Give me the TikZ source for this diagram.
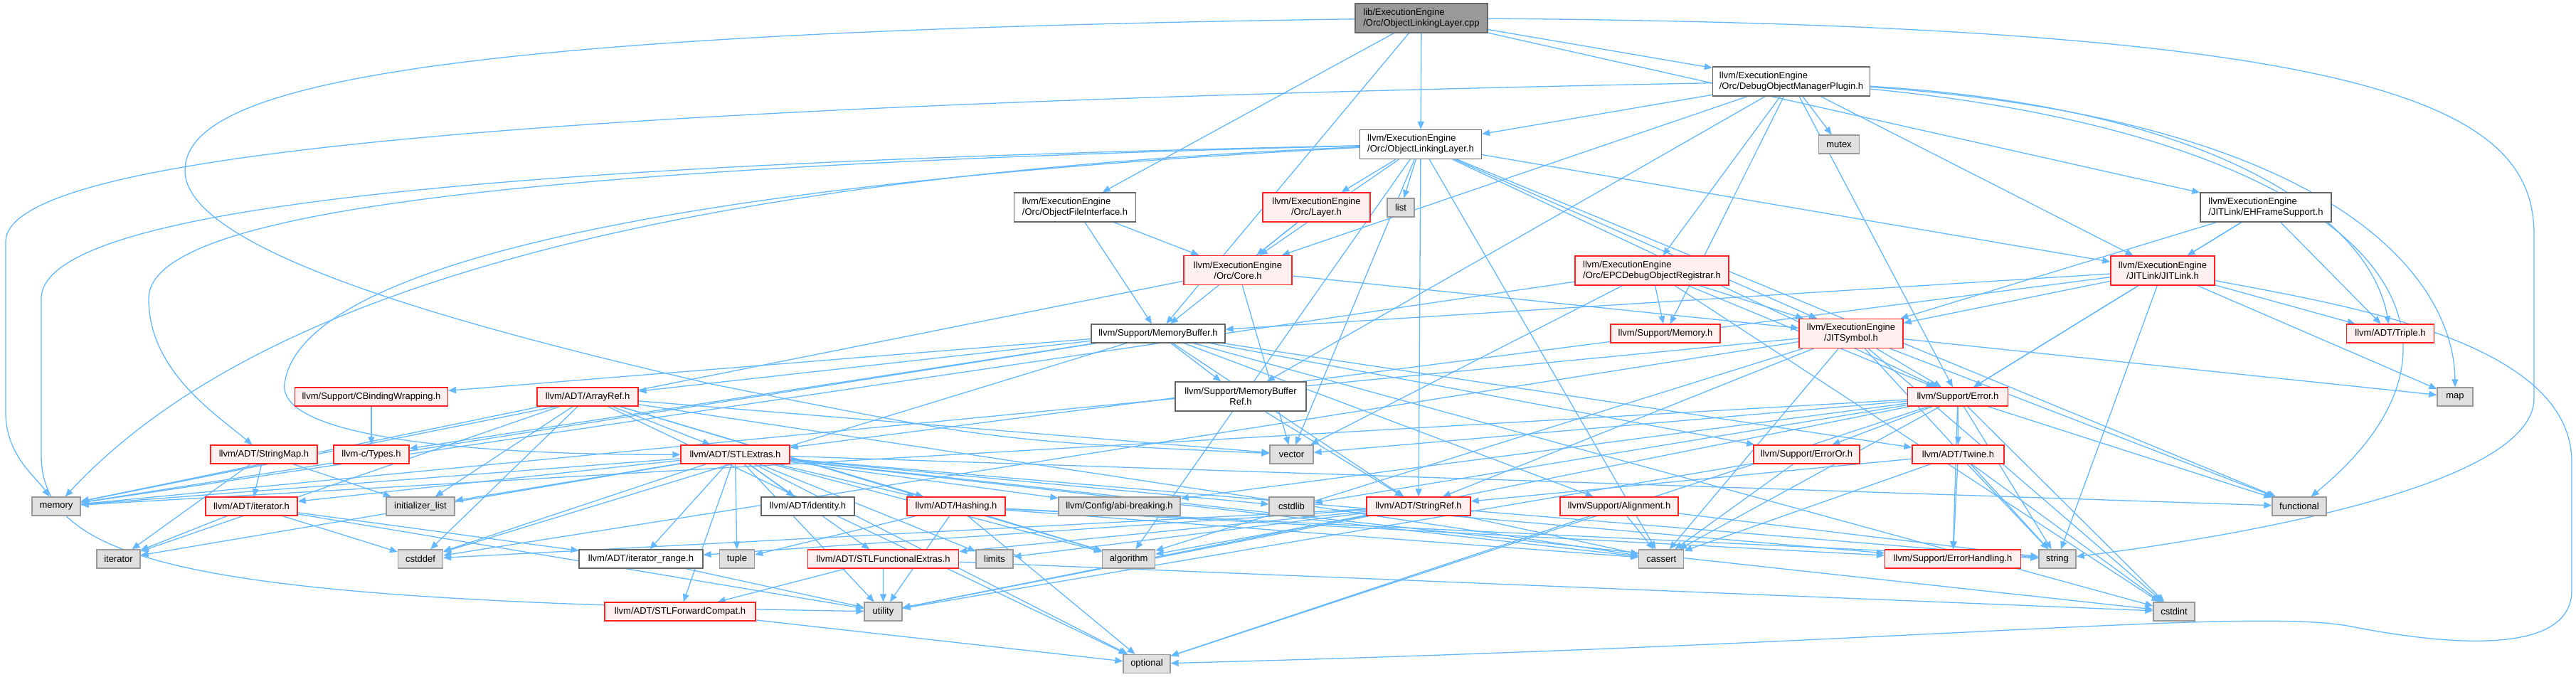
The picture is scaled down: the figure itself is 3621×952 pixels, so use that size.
\documentclass[tikz,border=0pt]{standalone}
\usepackage{fontspec}
\setmainfont{Liberation Sans}
\usetikzlibrary{arrows.meta}
\pgfdeclarelayer{bg}
\pgfsetlayers{bg,main}
\definecolor{edgec}{HTML}{63B8FF}
\definecolor{redfill}{HTML}{FFF0F0}
\definecolor{redline}{HTML}{FF2020}
\definecolor{sysfill}{HTML}{E0E0E0}
\definecolor{sysline}{HTML}{999999}
\definecolor{plainline}{HTML}{666666}
\definecolor{rootfill}{HTML}{999999}
\newcommand\nodefont{\fontsize{13}{15}\selectfont}
\newcommand\twol[2]{\setbox0=\hbox{#1}\setbox2=\hbox{#2}%
  \dimen0=\wd0 \ifdim\wd2>\dimen0 \dimen0=\wd2\fi
  \vbox{\baselineskip=15pt\hbox to\dimen0{\unhbox0\hfil}\hbox to\dimen0{\hfil\unhbox2\hfil}}}
\tikzset{
  nbase/.style={rectangle, line width=1.3pt, inner sep=0pt, font=\nodefont, text=black, minimum height=26pt},
  tall/.style={minimum height=41pt},
  rootnode/.style={nbase, fill=rootfill, draw=plainline},
  plainnode/.style={nbase, fill=white, draw=plainline},
  rednode/.style={nbase, fill=redfill, draw=redline},
  sysnode/.style={nbase, fill=sysfill, draw=sysline},
  edge/.style={draw=edgec, line width=1.3pt, -{Triangle[length=11pt,width=9pt]}}
}
\begin{document}
\begin{tikzpicture}[x=1pt,y=-1pt]
\useasboundingbox (0,0) rectangle (3621,952);
% row 0
\node[rootnode,tall,minimum width=186pt] (main) at (1998,25.5) {\twol{lib/ExecutionEngine}{/Orc/ObjectLinkingLayer.cpp}};
% row 1
\node[plainnode,tall,minimum width=221pt] (dom) at (2518,114.5) {\twol{llvm/ExecutionEngine}{/Orc/DebugObjectManagerPlugin.h}};
% row 2
\node[plainnode,tall,minimum width=171pt] (oll) at (1997,203) {\twol{llvm/ExecutionEngine}{/Orc/ObjectLinkingLayer.h}};
\node[sysnode,minimum width=57pt] (mutex) at (2585,203) {mutex};
% row 3
\node[plainnode,tall,minimum width=171pt] (ofi) at (1511,291.5) {\twol{llvm/ExecutionEngine}{/Orc/ObjectFileInterface.h}};
\node[rednode,tall,minimum width=151pt] (layer) at (1850.5,291.5) {\twol{llvm/ExecutionEngine}{/Orc/Layer.h}};
\node[sysnode,minimum width=38pt] (list) at (1969,292) {list};
\node[plainnode,tall,minimum width=184pt] (ehf) at (3185,291.5) {\twol{llvm/ExecutionEngine}{/JITLink/EHFrameSupport.h}};
% row 4
\node[rednode,tall,minimum width=152pt] (core) at (1740,380) {\twol{llvm/ExecutionEngine}{/Orc/Core.h}};
\node[rednode,tall,minimum width=216pt] (epc) at (2322,380.5) {\twol{llvm/ExecutionEngine}{/Orc/EPCDebugObjectRegistrar.h}};
\node[rednode,tall,minimum width=146pt] (jitlink) at (3040,380.5) {\twol{llvm/ExecutionEngine}{/JITLink/JITLink.h}};
% row 5
\node[plainnode,minimum width=188pt] (mbuf) at (1628,469) {llvm/Support/MemoryBuffer.h};
\node[rednode,minimum width=154pt] (memh) at (2341,469) {llvm/Support/Memory.h};
\node[rednode,tall,minimum width=146pt] (jitsym) at (2602,469) {\twol{llvm/ExecutionEngine}{/JITSymbol.h}};
\node[rednode,minimum width=123pt] (triple) at (3360,469) {llvm/ADT/Triple.h};
% row 6
\node[rednode,minimum width=215pt] (cbw) at (522,558) {llvm/Support/CBindingWrapping.h};
\node[rednode,minimum width=142pt] (arrayref) at (826,558) {llvm/ADT/ArrayRef.h};
\node[plainnode,tall,minimum width=184pt] (mbref) at (1744,557.5) {\twol{llvm/Support/MemoryBuffer}{Ref.h}};
\node[rednode,minimum width=141pt] (error) at (2752,558) {llvm/Support/Error.h};
\node[sysnode,minimum width=50pt] (map) at (3451,558) {map};
% row 7
\node[rednode,minimum width=150pt] (strmap) at (371,639) {llvm/ADT/StringMap.h};
\node[rednode,minimum width=106pt] (types) at (522,639) {llvm-c/Types.h};
\node[rednode,minimum width=153pt] (stlextras) at (1033.5,639) {llvm/ADT/STLExtras.h};
\node[sysnode,minimum width=61pt] (vector) at (1815.5,639) {vector};
\node[rednode,minimum width=149pt] (erroror) at (2539.5,639) {llvm/Support/ErrorOr.h};
\node[rednode,minimum width=129pt] (twine) at (2752.5,639) {llvm/ADT/Twine.h};
% row 8
\node[sysnode,minimum width=68pt] (memory) at (79,712) {memory};
\node[rednode,minimum width=129pt] (iterh) at (353.5,712) {llvm/ADT/iterator.h};
\node[sysnode,minimum width=96pt] (initl) at (591,712) {initializer\_list};
\node[plainnode,minimum width=131pt] (identity) at (1135.5,712) {llvm/ADT/identity.h};
\node[rednode,minimum width=138pt] (hashing) at (1344,712) {llvm/ADT/Hashing.h};
\node[sysnode,minimum width=171pt] (abi) at (1573.5,712) {llvm/Config/abi-breaking.h};
\node[sysnode,minimum width=63pt] (cstdlib) at (1815.5,712) {cstdlib};
\node[rednode,minimum width=146pt] (stringref) at (1994,712) {llvm/ADT/StringRef.h};
\node[rednode,minimum width=166pt] (align) at (2276,712) {llvm/Support/Alignment.h};
\node[sysnode,minimum width=76pt] (functional) at (3232,712) {functional};
% row 9
\node[sysnode,minimum width=61pt] (iterator) at (166.5,786) {iterator};
\node[sysnode,minimum width=63pt] (cstddef) at (591,786) {cstddef};
\node[plainnode,minimum width=174pt] (iterrange) at (901,786) {llvm/ADT/iterator\_range.h};
\node[sysnode,minimum width=49pt] (tuple) at (1036,786) {tuple};
\node[rednode,minimum width=212pt] (stlfunc) at (1241.6,786) {llvm/ADT/STLFunctionalExtras.h};
\node[sysnode,minimum width=52pt] (limits) at (1398,786) {limits};
\node[sysnode,minimum width=74pt] (algorithm) at (1586.7,786) {algorithm};
\node[sysnode,minimum width=63pt] (cassert) at (2335.3,786) {cassert};
\node[rednode,minimum width=191pt] (errhand) at (2745,786) {llvm/Support/ErrorHandling.h};
\node[sysnode,minimum width=52pt] (string) at (2892,786) {string};
% row 10
\node[rednode,minimum width=212pt] (stlfwd) at (956,860) {llvm/ADT/STLForwardCompat.h};
\node[sysnode,minimum width=53pt] (utility) at (1241.5,860) {utility};
\node[sysnode,minimum width=58pt] (cstdint) at (3056,860) {cstdint};
% row 11
\node[sysnode,minimum width=66pt] (optional) at (1612,933.5) {optional};

\begin{pgfonlayer}{bg}
% routed connectors
\draw[edge] (main) .. controls (600,45) and (260,120) .. (260,240) .. controls (260,360) and (700,470) .. (1000,540) .. controls (1400,620) .. (vector);
\draw[edge] (main) .. controls (3350,35) and (3562,150) .. (3562,330) -- (3562,560) .. controls (3562,690) and (3100,760) .. (string);
\draw[edge] (dom) .. controls (700,150) and (8,220) .. (8,340) -- (8,580) .. controls (8,640) and (50,670) .. (memory);
\draw[edge] (oll) .. controls (700,230) and (58,290) .. (58,420) -- (58,640) .. controls (58,800) and (300,845) .. (utility);
\draw[edge] (oll) .. controls (700,235) and (209,300) .. (209,420) .. controls (209,520) and (300,580) .. (strmap);
\draw[edge] (oll) .. controls (900,260) and (420,380) .. (400,540) .. controls (390,620) and (700,640) .. (stlextras);
\draw[edge] (oll) .. controls (900,250) and (350,420) .. (memory);
\draw[edge] (jitlink) .. controls (3300,430) and (3615,480) .. (3615,650) -- (3615,830) .. controls (3615,920) and (3450,910) .. (3300,880) .. controls (3150,855) and (2700,905) .. (optional);
\draw[edge] (dom) .. controls (3100,150) and (3330,300) .. (triple);
\draw[edge] (dom) .. controls (3300,170) and (3450,400) .. (map);
\draw[edge] (dom) .. controls (3300,190) and (3550,450) .. (functional);
% straight connectors
\foreach \t in {oll,dom,ofi,mbuf,ehf} \draw[edge] (main) -- (\t);
\foreach \t in {oll,mutex,epc,memh,core,jitlink,mbref,error} \draw[edge] (dom) -- (\t);
\foreach \t in {jitlink,jitsym,core,layer,error,algorithm,cassert,functional,list,vector,stringref} \draw[edge] (oll) -- (\t);
\foreach \t in {core,mbuf} \draw[edge] (layer) -- (\t);
\foreach \t in {core,mbuf} \draw[edge] (ofi) -- (\t);
\foreach \t in {jitsym,memory,vector} \draw[edge] (core) -- (\t);
\foreach \t in {jitsym,memh,error,cstdint,memory,vector} \draw[edge] (epc) -- (\t);
\foreach \t in {jitlink,triple,jitsym,error} \draw[edge] (ehf) -- (\t);
\foreach \t in {stlextras,triple,jitsym,error,mbuf,map,string} \draw[edge] (jitlink) -- (\t);
\foreach \t in {error,stringref,cassert,algorithm,cstddef,cstdint,functional,map,memory,string} \draw[edge] (jitsym) -- (\t);
\foreach \t in {cbw,arrayref,mbref,stringref,twine,align,erroror,types,cstddef,cstdint,memory} \draw[edge] (mbuf) -- (\t);
\draw[edge] (mbref) -- (stringref);
\draw[edge] (cbw) -- (types);
\foreach \t in {hashing,stlextras,algorithm,cassert,cstddef,initl,iterator,memory,optional,vector} \draw[edge] (arrayref) -- (\t);
\foreach \t in {iterh,initl,iterator} \draw[edge] (strmap) -- (\t);
\foreach \t in {hashing,stlfwd,stlfunc,identity,iterh,iterrange,abi,errhand,algorithm,cassert,cstddef,cstdint,cstdlib,functional,initl,iterator,limits,memory,optional,tuple,utility} \draw[edge] (stlextras) -- (\t);
\foreach \t in {iterrange,iterator,cstddef,utility} \draw[edge] (iterh) -- (\t);
\draw[edge] (iterrange) -- (utility);
\foreach \t in {errhand,algorithm,cassert,optional,string,tuple,utility} \draw[edge] (hashing) -- (\t);
\foreach \t in {stlfwd,cstdint,utility} \draw[edge] (stlfunc) -- (\t);
\draw[edge] (stlfwd) -- (optional);
\foreach \t in {abi,twine,errhand,erroror,cassert,cstdint,cstdlib,functional,memory,optional,string,utility,vector} \draw[edge] (error) -- (\t);
\foreach \t in {cassert,utility} \draw[edge] (erroror) -- (\t);
\foreach \t in {stringref,errhand,cassert,cstdint,string} \draw[edge] (twine) -- (\t);
\foreach \t in {stlfunc,iterrange,algorithm,cassert,cstddef,limits,string,utility} \draw[edge] (stringref) -- (\t);
\foreach \t in {cassert,optional,string} \draw[edge] (align) -- (\t);
\end{pgfonlayer}
\end{tikzpicture}
\end{document}
